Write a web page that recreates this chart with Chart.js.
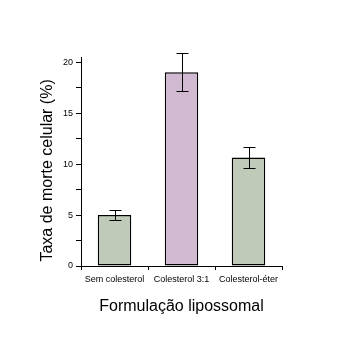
<!DOCTYPE html>
<html>
<head>
<meta charset="utf-8">
<script src="https://cdn.jsdelivr.net/npm/chart.js@4/dist/chart.umd.min.js"></script>
<style>
  body { margin: 0; background: #fff; }
  #box { width: 361px; height: 337px; }
</style>
</head>
<body>
<div id="box"><canvas id="grafico"></canvas></div>
<script>
const categorias = ["Sem colesterol", "Colesterol 3:1", "Colesterol-éter"];
const taxaMorte = [5.0, 19.0, 10.65];
const erroPadrao = [0.5, 1.85, 1.05];
const coresBarras = ["#c0cab8", "#d2b9d2", "#c0cab8"];
const ticksY = [0, 2.5, 5, 7.5, 10, 12.5, 15, 17.5, 20];

// barras de erro desenhadas com a escala y
const barrasErro = {
  id: "barrasErro",
  afterDatasetsDraw(chart) {
    const ctx = chart.ctx;
    const y = chart.scales.y;
    const meta = chart.getDatasetMeta(0);
    ctx.save();
    ctx.strokeStyle = "#000";
    ctx.lineWidth = 1;
    meta.data.forEach((bar, i) => {
      const x = Math.round(bar.x) + 0.5;
      const yTop = Math.round(y.getPixelForValue(taxaMorte[i] + erroPadrao[i])) + 0.5;
      const yBot = Math.round(y.getPixelForValue(taxaMorte[i] - erroPadrao[i])) + 0.5;
      ctx.beginPath();
      ctx.moveTo(x, yTop); ctx.lineTo(x, yBot);
      ctx.moveTo(x - 6, yTop); ctx.lineTo(x + 6, yTop);
      ctx.moveTo(x - 6, yBot); ctx.lineTo(x + 6, yBot);
      ctx.stroke();
    });
    ctx.restore();
  }
};

new Chart(document.getElementById("grafico"), {
  type: "bar",
  data: {
    labels: categorias,
    datasets: [{
      data: taxaMorte,
      backgroundColor: coresBarras,
      borderColor: "#000",
      borderWidth: 1.5,
      borderSkipped: false,
      barPercentage: 0.5,
      categoryPercentage: 1
    }]
  },
  options: {
    responsive: true,
    maintainAspectRatio: false,
    animation: false,
    layout: { padding: { top: 57, right: 79, left: 38, bottom: 21 } },
    plugins: { legend: { display: false }, tooltip: { enabled: false } },
    scales: {
      x: {
        afterFit: s => { s.height = 50; },
        grid: { drawOnChartArea: false, tickLength: 4, color: "#000", offset: true },
        border: { color: "#000", width: 1 },
        ticks: { color: "#000", padding: 4, font: { family: "Liberation Sans", size: 9 } },
        title: {
          display: true, text: "Formulação lipossomal", color: "#000",
          font: { family: "Liberation Sans", size: 16 }, padding: 0
        }
      },
      y: {
        min: 0, max: 20.5,
        afterFit: s => { s.width = 43; },
        afterBuildTicks: s => { s.ticks = ticksY.map(v => ({ value: v })); },
        grid: { drawOnChartArea: false, tickLength: 5, color: "#000" },
        border: { color: "#000", width: 1 },
        ticks: {
          color: "#000", padding: 3,
          font: { family: "Liberation Sans", size: 9 },
          callback: v => (v % 5 === 0 ? v : "")
        },
        title: {
          display: true, text: "Taxa de morte celular (%)    ", color: "#000",
          font: { family: "Liberation Sans", size: 16 }, padding: 0
        }
      }
    }
  },
  plugins: [barrasErro]
});
</script>
</body>
</html>
